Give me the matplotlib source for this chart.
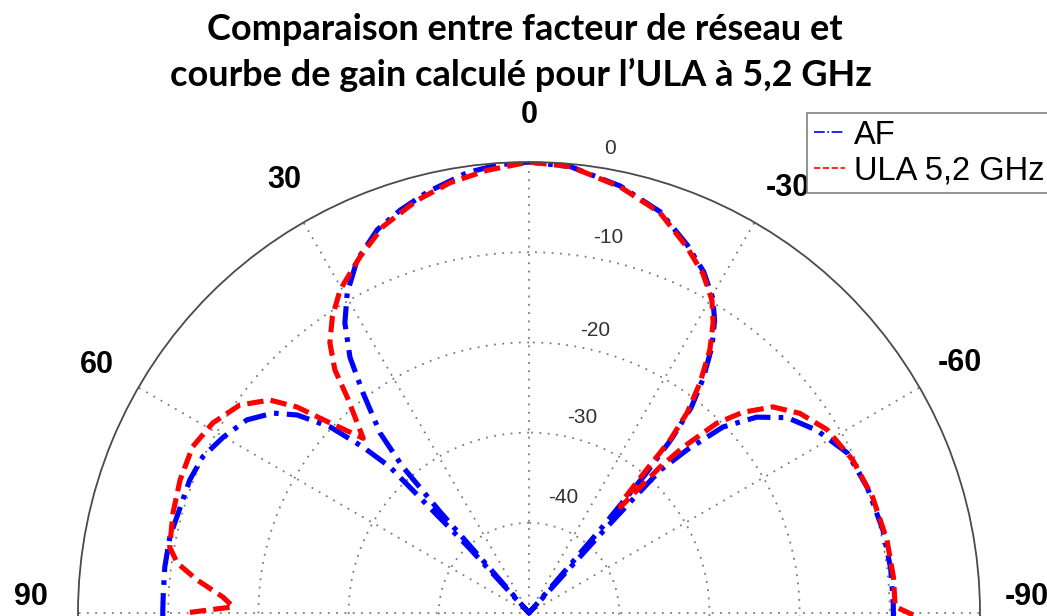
import numpy as np
import matplotlib
matplotlib.use("Agg")
import matplotlib.pyplot as plt
from matplotlib.lines import Line2D

# angle (deg, + = left) / level (dB), left to right
af_theta = [90.5, 89.5, 86.9, 82.8, 78.0, 73.1, 68.6, 64.4, 60.1, 55.6, 52.0,
            49.5, 46.9, 45.0, 43.6, 42.6, 42.0, 41.3, 40.8, 39.6, 37.0, 35.0,
            32.4, 29.6, 26.0, 21.6, 17.7, 13.6, 8.0, 4.0, 0.0, -5.3, -12.1,
            -18.1, -23.3, -27.1, -30.3, -32.4, -34.5, -36.6, -38.3, -39.3,
            -40.0, -40.5, -41.5, -42.2, -42.4, -42.6, -44.1, -46.2, -49.3,
            -52.9, -57.6, -63.3, -69.6, -76.8, -83.0, -88.4, -90.5]
af_db = [-9.4, -9.4, -9.4, -9.3, -9.3, -9.6, -9.6, -9.9, -10.9, -12.1, -14.0,
         -16.2, -19.8, -24.0, -27.6, -40.0, -50.0, -35.0, -28.5, -24.1, -19.4,
         -15.4, -11.9, -9.2, -6.5, -4.3, -3.1, -2.0, -0.7, -0.2, 0.0, -0.3,
         -1.6, -3.2, -5.6, -7.5, -9.6, -11.6, -14.2, -17.6, -21.0, -25.0,
         -30.0, -37.9, -50.0, -37.1, -33.0, -28.5, -24.8, -20.2, -16.7,
         -14.1, -12.2, -10.5, -10.0, -9.7, -9.6, -9.6, -9.6]

ula_theta = [89.9, 88.8, 87.0, 84.3, 81.9, 79.6, 74.3, 69.1, 63.7, 59.0, 54.3,
             50.6, 48.4, 46.3, 43.5, 40.1, 38.6, 36.4, 33.6, 30.3, 25.4, 20.7,
             15.2, 10.4, 5.4, 0.0, -5.3, -12.1, -18.1, -23.3, -27.1, -30.3,
             -32.4, -34.5, -36.6, -38.3, -39.2, -39.4, -39.8, -40.8, -41.9,
             -42.9, -44.7, -46.8, -49.8, -53.6, -58.4, -64.7, -71.4, -78.5,
             -84.4, -89.0, -90.3]
ula_db = [-12.4, -17.2, -16.0, -13.0, -10.6, -9.5, -9.0, -8.6, -8.4, -9.1,
          -10.5, -12.8, -15.6, -19.5, -23.3, -18.7, -15.5, -12.8, -10.6, -8.5,
          -6.3, -4.2, -2.6, -1.5, -0.7, 0.0, -0.3, -1.7, -3.3, -5.8, -7.7,
          -9.8, -11.9, -14.6, -18.2, -21.7, -25.3, -30.0, -33.7, -34.5, -28.3,
          -24.9, -20.4, -17.5, -14.6, -12.7, -11.2, -10.3, -9.8, -9.5, -9.4,
          -9.4, -7.4]

angle_labels = ["0", "30", "-30", "60", "-60", "90", "-90"]
r_ticks = [0, -10, -20, -30, -40]

W, H = 1047, 616
fig = plt.figure(figsize=(W / 100, H / 100), dpi=100)

# polar axes centred near the bottom edge, lower half falls outside the figure
cx, cy, R = 529, 613, 451
ax = fig.add_axes([(cx - R) / W, (H - cy - R) / H, 2 * R / W, 2 * R / H],
                  projection="polar")
ax.set_theta_zero_location("N")
ax.set_theta_direction(1)
ax.set_ylim(-50, 0)
ax.set_rticks([-40, -30, -20, -10])
ax.set_yticklabels([])
ax.set_thetagrids(range(0, 360, 30), labels=[])
ax.grid(True, color="#7a7a7a", lw=1.3, linestyle=(0, (1, 3.6)))
ax.spines["polar"].set_color("#4a4a4a")
ax.spines["polar"].set_linewidth(1.3)

ax.plot(np.deg2rad(af_theta), af_db, color="#0000ff", lw=3.7,
        linestyle=(0, (4.5, 1.6, 0.9, 1.6)))
ax.plot(np.deg2rad(ula_theta), ula_db, color="#ff0000", lw=3.7,
        linestyle=(0, (3.2, 1.4)))

# angle labels just outside the outer circle
lab_theta = [0, 29.5, -31.3, 60.1, -59.9, 88.2, -88.2]
for t, s in zip(lab_theta, angle_labels):
    ax.text(np.deg2rad(t), 5.2, s, ha="center", va="center", fontsize=22,
            fontweight="bold", family="Liberation Sans", clip_on=False)

# radial labels, MATLAB style a bit right of the 0 spoke
rl_theta = [-9.9, -11.9, -13.1, -15.1, -16.5]
rl_off = [2.3, 2.5, 2.2, 2.5, 3.3]
for v, t, o in zip(r_ticks, rl_theta, rl_off):
    ax.text(np.deg2rad(t), v + o, str(v), ha="center", va="center",
            fontsize=15, color="#333333", family="Liberation Sans",
            clip_on=False)

fig.text(525 / W, 1 - 30 / H, "Comparaison entre facteur de réseau et",
         ha="center", va="center", fontsize=26, fontweight="bold",
         family="Lato")
fig.text(521 / W, 1 - 75 / H, "courbe de gain calculé pour l’ULA à 5,2 GHz",
         ha="center", va="center", fontsize=26, fontweight="bold",
         family="Lato")

handles = [Line2D([], [], color="#0000ff", lw=1.2, linestyle="-."),
           Line2D([], [], color="#ff0000", lw=1.2, linestyle="--")]
leg = fig.legend(handles, ["AF", "ULA 5,2 GHz"], loc="upper left",
                 bbox_to_anchor=(807 / W, 1 - 113 / H), borderaxespad=0,
                 fancybox=False, edgecolor="#808080", framealpha=1,
                 prop={"family": "Liberation Sans", "size": 23.5},
                 handlelength=0.95, handletextpad=0.3, borderpad=0.2,
                 labelspacing=0.15)
leg.get_frame().set_linewidth(1.2)

fig.savefig("out.png", dpi=100)
